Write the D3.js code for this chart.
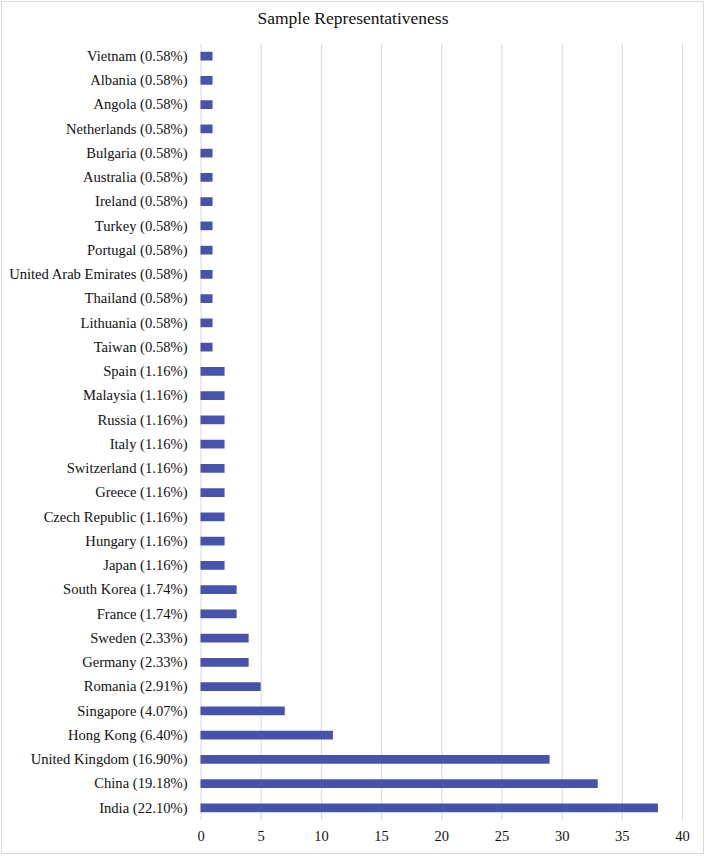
<!DOCTYPE html>
<html>
<head>
<meta charset="utf-8">
<script src="https://cdn.jsdelivr.net/npm/d3@7/dist/d3.min.js"></script>
<style>
  html, body { margin: 0; padding: 0; background: #fff; }
  svg { display: block; }
</style>
</head>
<body>
<script>
const categories = [
  "Vietnam (0.58%)", "Albania (0.58%)", "Angola (0.58%)", "Netherlands (0.58%)",
  "Bulgaria (0.58%)", "Australia (0.58%)", "Ireland (0.58%)", "Turkey (0.58%)",
  "Portugal (0.58%)", "United Arab Emirates (0.58%)", "Thailand (0.58%)", "Lithuania (0.58%)",
  "Taiwan (0.58%)", "Spain (1.16%)", "Malaysia (1.16%)", "Russia (1.16%)",
  "Italy (1.16%)", "Switzerland (1.16%)", "Greece (1.16%)", "Czech Republic (1.16%)",
  "Hungary (1.16%)", "Japan (1.16%)", "South Korea (1.74%)", "France (1.74%)",
  "Sweden (2.33%)", "Germany (2.33%)", "Romania (2.91%)", "Singapore (4.07%)",
  "Hong Kong (6.40%)", "United Kingdom (16.90%)", "China (19.18%)", "India (22.10%)"
];
const values = [
  1, 1, 1, 1,
  1, 1, 1, 1,
  1, 1, 1, 1,
  1, 2, 2, 2,
  2, 2, 2, 2,
  2, 2, 3, 3,
  4, 4, 5, 7,
  11, 29, 33, 38
];
const xTicks = [0, 5, 10, 15, 20, 25, 30, 35, 40];
const title = "Sample Representativeness";

const W = 705, H = 856;
const margin = { top: 44, right: 23, bottom: 36, left: 200.5 };
const FONT = "'Liberation Serif', 'Times New Roman', serif";

const svg = d3.select("body").append("svg").attr("width", W).attr("height", H);

svg.append("rect")
  .attr("x", 1.5).attr("y", 1.5)
  .attr("width", W - 3).attr("height", H - 4)
  .attr("fill", "#fff").attr("stroke", "#d9d9d9").attr("stroke-width", 1);

const x = d3.scaleLinear().domain([0, 40]).range([margin.left, W - margin.right]);
const y = d3.scaleBand().domain(categories).range([margin.top, H - margin.bottom]).paddingInner(0.64).paddingOuter(0.32);

// gridlines
const grid = svg.append("g")
  .attr("transform", `translate(0,${H - margin.bottom})`)
  .call(d3.axisBottom(x).tickValues(xTicks).tickSize(-(H - margin.bottom - margin.top)).tickFormat(""));
grid.select(".domain").remove();
grid.selectAll(".tick line").attr("stroke", "#d9d9d9").attr("stroke-width", 1);

// x axis labels
const xa = svg.append("g")
  .attr("transform", `translate(0,${H - margin.bottom})`)
  .call(d3.axisBottom(x).tickValues(xTicks).tickSize(0).tickPadding(11));
xa.select(".domain").remove();
xa.selectAll("text")
  .attr("font-family", FONT)
  .attr("font-size", "14.5px").attr("fill", "#111");

// bars
svg.append("g").selectAll("rect")
  .data(categories)
  .join("rect")
  .attr("x", x(0))
  .attr("y", (d) => y(d))
  .attr("width", (d, i) => x(values[i]) - x(0))
  .attr("height", y.bandwidth())
  .attr("fill", "#4752aa");

// y axis labels
const ya = svg.append("g")
  .attr("transform", `translate(${x(0)},0)`)
  .call(d3.axisLeft(y).tickSize(0).tickPadding(13));
ya.select(".domain").remove();
ya.selectAll("text")
  .attr("font-family", FONT)
  .attr("font-size", "14.6px").attr("fill", "#111");

// title
svg.append("text")
  .attr("x", 353).attr("y", 24)
  .attr("text-anchor", "middle")
  .attr("font-family", FONT)
  .attr("font-size", "17.5px").attr("fill", "#111")
  .text(title);
</script>
</body>
</html>
